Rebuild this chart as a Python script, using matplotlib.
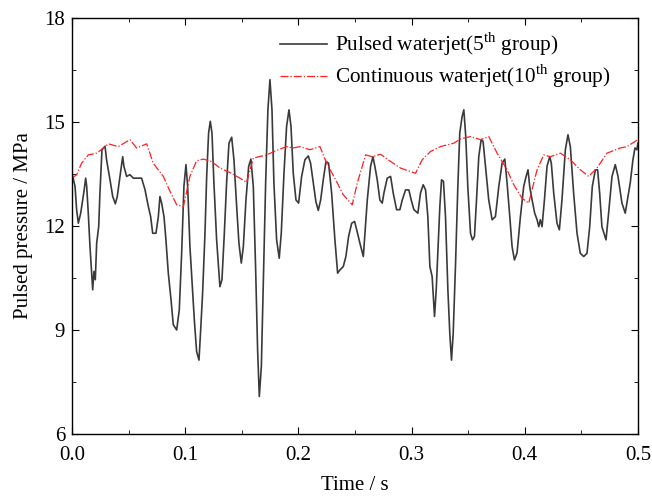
import numpy as np
import matplotlib
matplotlib.use("Agg")
import matplotlib.pyplot as plt
from matplotlib.ticker import MultipleLocator

plt.rcParams['font.family'] = ['Liberation Serif', 'DejaVu Serif']
plt.rcParams['mathtext.fontset'] = 'custom'
plt.rcParams['mathtext.rm'] = 'Liberation Serif'

# pulsed waterjet (5th group)
t_pulse = [0.0, 0.0027, 0.0041, 0.0056, 0.0077, 0.0094, 0.0106, 0.0121, 0.013, 0.0144,
           0.0159, 0.0174, 0.0183, 0.0194, 0.0206, 0.0218, 0.0236, 0.0247, 0.0265, 0.0292,
           0.0306, 0.0336, 0.036, 0.0383, 0.04, 0.0424, 0.0448, 0.0459, 0.0483, 0.0512,
           0.0542, 0.0571, 0.0615, 0.0645, 0.0674, 0.0695, 0.0713, 0.0742, 0.0763, 0.0777,
           0.0792, 0.0813, 0.083, 0.0851, 0.0875, 0.0895, 0.0925, 0.0948, 0.0969, 0.0989,
           0.1007, 0.1022, 0.1042, 0.1063, 0.1081, 0.1101, 0.1122, 0.1137, 0.1154, 0.1175,
           0.119, 0.1207, 0.1222, 0.1237, 0.1254, 0.1278, 0.1307, 0.1325, 0.1346, 0.1366,
           0.1387, 0.1411, 0.1431, 0.1455, 0.1475, 0.1496, 0.1514, 0.1537, 0.1561, 0.1581,
           0.1602, 0.1622, 0.164, 0.1655, 0.1673, 0.169, 0.1711, 0.1731, 0.1749, 0.1767,
           0.1784, 0.1808, 0.1831, 0.1849, 0.1873, 0.1896, 0.1917, 0.1935, 0.1955, 0.1979,
           0.2002, 0.2029, 0.2058, 0.2088, 0.2108, 0.2132, 0.2155, 0.2176, 0.2197, 0.222,
           0.2244, 0.2267, 0.2294, 0.2323, 0.2347, 0.2367, 0.2397, 0.2420, 0.2444, 0.2471,
           0.2497, 0.2523, 0.2544, 0.2574, 0.2609, 0.2638, 0.2659, 0.2676, 0.2697, 0.272,
           0.2741, 0.2756, 0.2785, 0.2815, 0.2838, 0.2868, 0.2897, 0.2918, 0.2947, 0.2976,
           0.2997, 0.3021, 0.3056, 0.3079, 0.3103, 0.3124, 0.3144, 0.3162, 0.3182, 0.3203,
           0.3218, 0.3232, 0.325, 0.3265, 0.3282, 0.33, 0.3321, 0.3338, 0.3353, 0.3368,
           0.3388, 0.3409, 0.3426, 0.3447, 0.3462, 0.3479, 0.3497, 0.3521, 0.3538, 0.3556,
           0.3574, 0.3594, 0.3615, 0.3632, 0.3653, 0.3682, 0.3712, 0.3741, 0.3771, 0.38,
           0.3824, 0.3844, 0.3868, 0.3888, 0.3909, 0.3932, 0.3962, 0.3991, 0.4012, 0.4029,
           0.4044, 0.4065, 0.4088, 0.4109, 0.4124, 0.4138, 0.4153, 0.4174, 0.4197, 0.4221,
           0.4235, 0.4256, 0.4285, 0.4306, 0.4329, 0.4359, 0.4382, 0.4403, 0.4432, 0.4462,
           0.4491, 0.4521, 0.455, 0.4574, 0.4597, 0.4624, 0.4644, 0.4662, 0.4682, 0.4718,
           0.4741, 0.4771, 0.48, 0.4824, 0.4859, 0.4888, 0.4912, 0.4932, 0.4956, 0.4974,
           0.4991, 0.5]
p_pulse = [13.52, 13.14, 12.47, 12.08, 12.37, 12.75, 13.0, 13.38, 13.14, 12.37,
           11.41, 10.64, 10.16, 10.69, 10.45, 11.5, 11.98, 12.95, 14.2, 14.3,
           13.9, 13.33, 12.85, 12.64, 12.85, 13.43, 14.0, 13.72, 13.43, 13.48,
           13.38, 13.38, 13.38, 13.05, 12.57, 12.27, 11.79, 11.79, 12.27, 12.85,
           12.66, 12.27, 11.6, 10.64, 9.87, 9.15, 9.0, 9.58, 11.22, 13.14,
           13.77, 13.14, 11.41, 10.25, 9.29, 8.38, 8.13, 9.0, 10.06, 11.79,
           13.43, 14.68, 15.02, 14.68, 13.24, 11.6, 10.25, 10.45, 11.79, 13.24,
           14.39, 14.56, 13.91, 12.56, 11.5, 10.93, 11.41, 12.75, 13.72, 13.93,
           13.14, 10.83, 8.43, 7.08, 7.94, 10.35, 13.24, 15.35, 16.22, 15.35,
           13.24, 11.6, 11.07, 11.79, 13.52, 14.87, 15.35, 14.87, 13.52, 12.75,
           12.66, 13.43, 13.91, 14.02, 13.81, 13.24, 12.7, 12.45, 12.75, 13.33,
           13.86, 13.81, 12.95, 11.6, 10.64, 10.73, 10.83, 11.12, 11.7, 12.08,
           12.13, 11.79, 11.5, 11.12, 12.75, 13.72, 14.0, 13.72, 13.33, 12.75,
           12.66, 12.95, 13.38, 13.43, 12.95, 12.47, 12.47, 12.75, 13.04, 13.04,
           12.75, 12.47, 12.37, 12.95, 13.19, 13.04, 12.27, 10.83, 10.54, 9.39,
           10.16, 11.21, 12.56, 13.33, 13.29, 12.27, 10.16, 8.9, 8.13, 8.9,
           10.83, 13.14, 14.68, 15.16, 15.35, 14.58, 13.14, 11.79, 11.6, 11.7,
           12.75, 14.0, 14.49, 14.44, 13.72, 12.75, 12.18, 12.27, 13.14, 13.81,
           13.93, 13.24, 12.27, 11.41, 11.02, 11.22, 12.27, 13.14, 13.43, 13.62,
           13.14, 12.75, 12.37, 12.18, 11.98, 12.18, 11.98, 12.75, 13.72, 14.0,
           13.81, 12.95, 12.08, 11.89, 12.75, 14.2, 14.63, 14.29, 12.95, 11.79,
           11.21, 11.12, 11.21, 11.98, 13.14, 13.62, 13.62, 12.95, 11.98, 11.6,
           12.37, 13.43, 13.77, 13.43, 12.66, 12.37, 12.85, 13.24, 13.91, 14.25,
           14.2, 14.39]

# continuous waterjet (10th group)
t_cont = [0.0, 0.0041, 0.0085, 0.0144, 0.0218, 0.0277, 0.0321, 0.0409, 0.0512, 0.0571,
          0.066, 0.0718, 0.0807, 0.0866, 0.0925, 0.0984, 0.1042, 0.1101, 0.116, 0.1234,
          0.1307, 0.1396, 0.1484, 0.1543, 0.1602, 0.172, 0.1808, 0.1896, 0.1955, 0.2014,
          0.2102, 0.2191, 0.225, 0.2338, 0.2397, 0.2476, 0.2521, 0.2594, 0.2653, 0.2726,
          0.2815, 0.2903, 0.3035, 0.3094, 0.3168, 0.3256, 0.3374, 0.3432, 0.3521, 0.3609,
          0.3682, 0.3756, 0.3844, 0.3903, 0.3976, 0.4035, 0.4109, 0.4168, 0.4226, 0.4315,
          0.4403, 0.4491, 0.4565, 0.4638, 0.4726, 0.4844, 0.4903, 0.5]
p_cont = [13.38, 13.48, 13.81, 14.05, 14.1, 14.25, 14.37, 14.29, 14.49, 14.25,
          14.37, 13.81, 13.43, 13.0, 12.61, 12.56, 13.43, 13.88, 13.93, 13.86,
          13.67, 13.54, 13.38, 13.26, 13.96, 14.05, 14.18, 14.29, 14.25, 14.29,
          14.2, 14.29, 13.81, 13.28, 12.9, 12.61, 13.24, 14.05, 14.0, 14.07,
          13.86, 13.67, 13.52, 13.91, 14.15, 14.29, 14.39, 14.51, 14.58, 14.49,
          14.58, 14.1, 13.62, 13.19, 12.8, 12.66, 13.62, 14.05, 14.0, 14.1,
          13.91, 13.62, 13.43, 13.67, 14.1, 14.25, 14.29, 14.49]

fig = plt.figure(figsize=(6.52, 4.97), dpi=100)
ax = fig.add_axes([0.1104, 0.1268, 0.868, 0.837])

ax.plot(t_pulse, p_pulse, '-', color='#3a3a3a', lw=1.2,
        label=r'Pulsed waterjet(5$^{\rm th}$ group)')
ax.plot(t_cont, p_cont, '-.', color='#ff2020', lw=0.9,
        label=r'Continuous waterjet(10$^{\rm th}$ group)')

ax.set_xlim(0, 0.5)
ax.set_ylim(6, 18)
ax.xaxis.set_major_locator(MultipleLocator(0.1))
ax.xaxis.set_minor_locator(MultipleLocator(0.05))
ax.yaxis.set_major_locator(MultipleLocator(3))
ax.yaxis.set_minor_locator(MultipleLocator(1.5))
ax.xaxis.set_major_formatter(plt.FormatStrFormatter('%.1f'))
ax.tick_params(which='both', direction='in', top=True, right=True, labelsize=15)
ax.tick_params(which='major', length=5)
ax.tick_params(which='minor', length=3)
ax.tick_params(axis='x', pad=8.5)
ax.tick_params(axis='y', pad=5)
for s in ax.spines.values():
	s.set_linewidth(1.0)

ax.set_xlabel('Time / s', fontsize=15, labelpad=8)
ax.set_ylabel('Pulsed pressure / MPa', fontsize=15, labelpad=8)
ax.legend(loc='upper right', frameon=False, fontsize=15.3, handlelength=2.25,
          handletextpad=0.35, bbox_to_anchor=(0.985, 1.015), labelspacing=0.2)

plt.savefig('out.png', dpi=100)
